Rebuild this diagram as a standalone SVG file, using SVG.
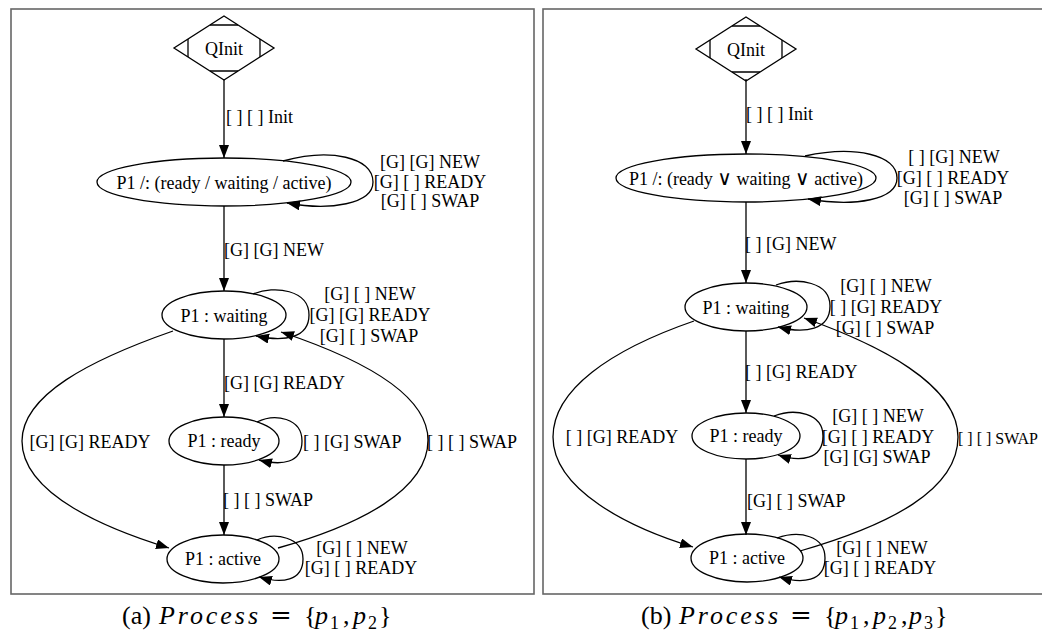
<svg xmlns="http://www.w3.org/2000/svg" width="1042" height="631" viewBox="0 0 1042 631">
<style>
  .frame{fill:none;stroke:#666;stroke-width:1.6}
  .node{fill:none;stroke:#000;stroke-width:1.3}
  .edge{fill:none;stroke:#000;stroke-width:1.3;marker-end:url(#arr)}
  text{font-family:"Liberation Serif","Times New Roman",serif;fill:#000}
  .t{font-size:18px}
  .m{text-anchor:middle}
  .cap{font-size:26px}
  .it{font-style:italic}
  .sub{font-size:18px}
  .or{font-family:"DejaVu Serif",serif;font-size:20px}
</style>
<defs>
  <marker id="arr" markerUnits="userSpaceOnUse" markerWidth="14" markerHeight="11" refX="13" refY="5" orient="auto">
    <path d="M0,0 L13,5 L0,10 z" fill="#000"/>
  </marker>
</defs>
<rect width="1042" height="631" fill="#fff"/>
<rect class="frame" x="11" y="9" width="523" height="585"/>
<rect class="frame" x="543" y="9" width="520" height="585"/>

<!-- ===== Panel (a) ===== -->
<g id="a-connectors">
  <path class="edge" d="M224,80 L224,158"/>
  <path class="edge" d="M283,161 C330,148 373,157 373,182 C373,204 330,211 287,203"/>
  <path class="edge" d="M224,206 L224,291"/>
  <path class="edge" d="M253,294 C275,285 309,290 309,315 C309,338 285,342 256,336"/>
  <path class="edge" d="M224,339 L224,417"/>
  <path class="edge" d="M257,422 C275,413 302,418 302,441 C302,463 282,466 259,460"/>
  <path class="edge" d="M224,465 L224,535"/>
  <path class="edge" d="M257,540 C275,532 303,537 303,559 C303,581 282,584 259,577"/>
  <path class="edge" d="M173,331 C90,360 22,395 22,441 C22,495 110,530 169,548"/>
  <path class="edge" d="M278,548 C360,525 428,490 428,440 C428,390 350,355 281,332"/>
  <text class="t" x="226" y="123">[ ] [ ] Init</text>
  <text class="t m" x="430" y="168">[G] [G] NEW</text>
  <text class="t m" x="430" y="188">[G] [ ] READY</text>
  <text class="t m" x="430" y="207">[G] [ ] SWAP</text>
  <text class="t" x="224" y="256">[G] [G] NEW</text>
  <text class="t m" x="370" y="300">[G] [ ] NEW</text>
  <text class="t m" x="370" y="321">[G] [G] READY</text>
  <text class="t m" x="369" y="342">[G] [ ] SWAP</text>
  <text class="t" x="224" y="389">[G] [G] READY</text>
  <text class="t m" x="90" y="448">[G] [G] READY</text>
  <text class="t" x="303" y="448">[ ] [G] SWAP</text>
  <text class="t" x="427" y="448">[ ] [ ] SWAP</text>
  <text class="t" x="223" y="506">[ ] [ ] SWAP</text>
  <text class="t m" x="362" y="554">[G] [ ] NEW</text>
  <text class="t m" x="361" y="574">[G] [ ] READY</text>
</g>
<g id="a-qinit">
  <polygon class="node" points="224,16 274,48 224,80 174,48"/>
  <path class="node" d="M210,25 L238,25 M188,39 L188,57 M260,39 L260,57 M210,71 L238,71"/>
  <text class="t m" x="224" y="55">QInit</text>
</g>
<g id="a-p1any">
  <ellipse class="node" cx="224" cy="182" rx="127" ry="24"/>
  <text class="t m" x="224" y="189">P1 /: (ready / waiting / active)</text>
</g>
<g id="a-waiting">
  <ellipse class="node" cx="224" cy="315" rx="62" ry="24"/>
  <text class="t m" x="224" y="322">P1 : waiting</text>
</g>
<g id="a-ready">
  <ellipse class="node" cx="224" cy="441" rx="55" ry="24"/>
  <text class="t m" x="224" y="447">P1 : ready</text>
</g>
<g id="a-active">
  <ellipse class="node" cx="223" cy="559" rx="56" ry="24"/>
  <text class="t m" x="223" y="565">P1 : active</text>
</g>

<!-- ===== Panel (b) ===== -->
<g id="b-connectors">
  <path class="edge" d="M746,79 L746,154"/>
  <path class="edge" d="M805,156 C855,145 897,155 897,178 C897,200 855,207 808,199"/>
  <path class="edge" d="M746,202 L746,283"/>
  <path class="edge" d="M776,285 C798,277 830,282 830,306 C830,330 805,334 778,327"/>
  <path class="edge" d="M746,331 L746,413"/>
  <path class="edge" d="M774,416 C795,408 823,413 823,436 C823,460 800,462 778,455"/>
  <path class="edge" d="M746,459 L746,535"/>
  <path class="edge" d="M777,538 C800,530 825,536 825,558 C825,582 802,584 779,577"/>
  <path class="edge" d="M694,321 C610,350 553,390 553,437 C553,490 630,528 693,547"/>
  <path class="edge" d="M800,551 C890,525 958,490 958,437 C958,385 880,345 804,318"/>
  <text class="t" x="746" y="120">[ ] [ ] Init</text>
  <text class="t m" x="954" y="163">[ ] [G] NEW</text>
  <text class="t m" x="953" y="184">[G] [ ] READY</text>
  <text class="t m" x="953" y="204">[G] [ ] SWAP</text>
  <text class="t" x="745" y="250">[ ] [G] NEW</text>
  <text class="t m" x="886" y="292">[G] [ ] NEW</text>
  <text class="t m" x="886" y="313">[ ] [G] READY</text>
  <text class="t m" x="885" y="334">[G] [ ] SWAP</text>
  <text class="t" x="745" y="378">[ ] [G] READY</text>
  <text class="t m" x="622" y="443">[ ] [G] READY</text>
  <text class="t m" x="878" y="422">[G] [ ] NEW</text>
  <text class="t m" x="878" y="443">[G] [ ] READY</text>
  <text class="t m" x="877" y="463">[G] [G] SWAP</text>
  <text x="958" y="444" style="font-size:16px">[ ] [ ] SWAP</text>
  <text class="t" x="747" y="507">[G] [ ] SWAP</text>
  <text class="t m" x="882" y="554">[G] [ ] NEW</text>
  <text class="t m" x="880" y="574">[G] [ ] READY</text>
</g>
<g id="b-qinit">
  <polygon class="node" points="746,17 796,49 746,81 696,49"/>
  <path class="node" d="M732,26 L760,26 M710,40 L710,58 M782,40 L782,58 M732,72 L760,72"/>
  <text class="t m" x="746" y="56">QInit</text>
</g>
<g id="b-p1any">
  <ellipse class="node" cx="746" cy="178" rx="130" ry="24"/>
  <text class="t m" x="746" y="185">P1 /: (ready <tspan class="or">∨</tspan> waiting <tspan class="or">∨</tspan> active)</text>
</g>
<g id="b-waiting">
  <ellipse class="node" cx="746" cy="307" rx="61" ry="24"/>
  <text class="t m" x="746" y="314">P1 : waiting</text>
</g>
<g id="b-ready">
  <ellipse class="node" cx="746" cy="436" rx="54" ry="23"/>
  <text class="t m" x="746" y="442">P1 : ready</text>
</g>
<g id="b-active">
  <ellipse class="node" cx="747" cy="558" rx="56" ry="24"/>
  <text class="t m" x="747" y="564">P1 : active</text>
</g>

<!-- captions -->
<g id="caption-a">
  <text class="cap" x="122" y="624">(a)</text>
  <text class="cap it" x="159" y="624" textLength="99" lengthAdjust="spacing">Process</text>
  <text class="cap" x="270" y="624" style="font-family:'DejaVu Serif',serif">=</text>
  <text class="cap" x="304" y="624">{</text>
  <text class="cap it" x="315" y="624">p</text>
  <text class="sub" x="330" y="629">1</text>
  <text class="cap" x="343" y="624">,</text>
  <text class="cap it" x="353" y="624">p</text>
  <text class="sub" x="368" y="629">2</text>
  <text class="cap" x="379" y="624">}</text>
</g>
<g id="caption-b">
  <text class="cap" x="641" y="624">(b)</text>
  <text class="cap it" x="679" y="624" textLength="99" lengthAdjust="spacing">Process</text>
  <text class="cap" x="790" y="624" style="font-family:'DejaVu Serif',serif">=</text>
  <text class="cap" x="824" y="624">{</text>
  <text class="cap it" x="835" y="624">p</text>
  <text class="sub" x="850" y="629">1</text>
  <text class="cap" x="863" y="624">,</text>
  <text class="cap it" x="873" y="624">p</text>
  <text class="sub" x="888" y="629">2</text>
  <text class="cap" x="901" y="624">,</text>
  <text class="cap it" x="909" y="624">p</text>
  <text class="sub" x="924" y="629">3</text>
  <text class="cap" x="935" y="624">}</text>
</g>
</svg>
